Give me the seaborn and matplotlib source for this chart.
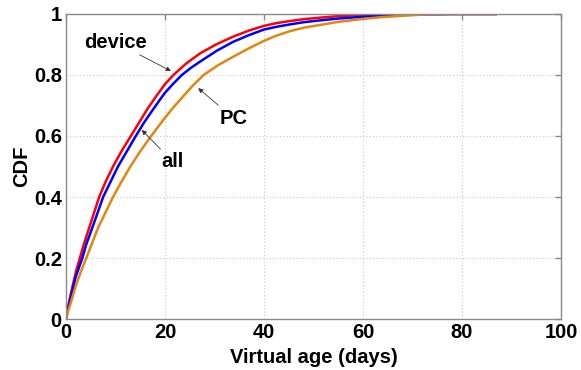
import matplotlib
matplotlib.use("Agg")
import matplotlib.pyplot as plt
import seaborn as sns
import pandas as pd

# Empirical CDF of virtual age (days) per client type
device_age = [0, 0.5, 1, 2, 2.8, 3.6, 4.5, 5.6, 6.7, 8, 9.5, 11.2, 13.1, 14.8, 16.5, 18.2,
              20, 21.7, 24.3, 27.1, 30.3, 33.8, 37, 40, 42.5, 45.3, 48, 51.3, 55, 60, 65, 70, 87]
device_cdf = [0, 0.045, 0.085, 0.155, 0.2, 0.245, 0.29, 0.345, 0.4, 0.45, 0.5, 0.55, 0.6, 0.645,
              0.69, 0.73, 0.77, 0.8, 0.838, 0.871, 0.9, 0.926, 0.946, 0.961, 0.97, 0.977, 0.983,
              0.988, 0.993, 0.997, 0.999, 1.0, 1.0]

all_age = [0, 0.5, 1, 2, 3.3, 4.1, 5, 6.2, 7.5, 9, 10.5, 12.3, 14.1, 15.8, 17.5, 18.8, 20,
           21.7, 23.4, 25.2, 27.1, 30.4, 33.8, 37, 40, 42.5, 45.3, 48, 51.3, 55, 60, 65, 70, 78, 87]
all_cdf = [0, 0.04, 0.075, 0.14, 0.2, 0.245, 0.285, 0.34, 0.4, 0.45, 0.5, 0.55, 0.6, 0.645,
           0.685, 0.715, 0.742, 0.772, 0.8, 0.823, 0.844, 0.879, 0.909, 0.931, 0.949, 0.958,
           0.966, 0.973, 0.979, 0.985, 0.991, 0.995, 0.998, 1.0, 1.0]

pc_age = [0, 0.5, 1, 2, 3, 4.1, 5.3, 6.5, 8, 9.5, 11.2, 13, 15, 17.2, 18.6, 20, 21.7, 23.5,
          25.6, 27.8, 30.7, 33.8, 37, 40, 42.5, 45.3, 48, 51.3, 55, 60, 64, 68, 72, 76, 87]
pc_cdf = [0, 0.03, 0.055, 0.11, 0.155, 0.2, 0.25, 0.3, 0.35, 0.4, 0.45, 0.5, 0.55, 0.6, 0.63,
          0.66, 0.694, 0.727, 0.765, 0.8, 0.832, 0.86, 0.888, 0.912, 0.929, 0.944, 0.955, 0.964,
          0.974, 0.984, 0.99, 0.994, 0.998, 1.0, 1.0]

series_names = ["device", "all", "PC"]
series_colors = {"device": "#ff0000", "all": "#0000ff", "PC": "#e3860f"}

frames = [
    pd.DataFrame({"age": device_age, "cdf": device_cdf, "type": "device"}),
    pd.DataFrame({"age": all_age, "cdf": all_cdf, "type": "all"}),
    pd.DataFrame({"age": pc_age, "cdf": pc_cdf, "type": "PC"}),
]
df = pd.concat(frames, ignore_index=True)

sns.set_style("white")
plt.rcParams["font.family"] = ["Liberation Sans", "DejaVu Sans"]
plt.rcParams["font.weight"] = "bold"
plt.rcParams["text.color"] = "black"
plt.rcParams["axes.labelcolor"] = "black"

fig = plt.figure(figsize=(5.81, 3.70), dpi=100)
ax = fig.add_axes([0.1136, 0.1378, 0.852, 0.8244])

sns.lineplot(data=df, x="age", y="cdf", hue="type", hue_order=series_names,
             palette=series_colors, estimator=None, sort=False, linewidth=1.8,
             legend=False, ax=ax)

ax.set_xlim(0, 100)
ax.set_ylim(0, 1)
ax.set_xticks([0, 20, 40, 60, 80, 100])
ax.set_yticks([0, 0.2, 0.4, 0.6, 0.8, 1])
ax.set_xticklabels(["0", "20", "40", "60", "80", "100"])
ax.set_yticklabels(["0", "0.2", "0.4", "0.6", "0.8", "1"])

ax.grid(True, linestyle=(0, (1, 2)), color="#c8c8c8", linewidth=0.8)
for s in ax.spines.values():
    s.set_visible(True)
    s.set_color("#8a8a8a")
    s.set_linewidth(1.0)
ax.tick_params(axis="both", which="both", direction="in", length=4, width=1,
               color="#8a8a8a", labelcolor="black", top=True, right=True,
               labelsize=14.5, pad=3)
for lbl in ax.get_xticklabels() + ax.get_yticklabels():
    lbl.set_fontweight("bold")

ax.set_xlabel("Virtual age (days)", fontsize=14.5, fontweight="bold", labelpad=4)
ax.set_ylabel("CDF", fontsize=14.5, fontweight="bold", labelpad=2)

arrow = dict(arrowstyle="-|>", color="#333333", lw=0.6, mutation_scale=7,
             shrinkA=0, shrinkB=0)
ax.annotate("device", xy=(21.2, 0.813), xytext=(9.9, 0.908), fontsize=14.5,
            fontweight="bold", ha="center", va="center", arrowprops=arrow)
ax.annotate("PC", xy=(26.7, 0.757), xytext=(33.8, 0.659), fontsize=14.5,
            fontweight="bold", ha="center", va="center", arrowprops=arrow)
ax.annotate("all", xy=(15.3, 0.62), xytext=(21.6, 0.515), fontsize=14.5,
            fontweight="bold", ha="center", va="center", arrowprops=arrow)

fig.savefig("out.png", dpi=100)
